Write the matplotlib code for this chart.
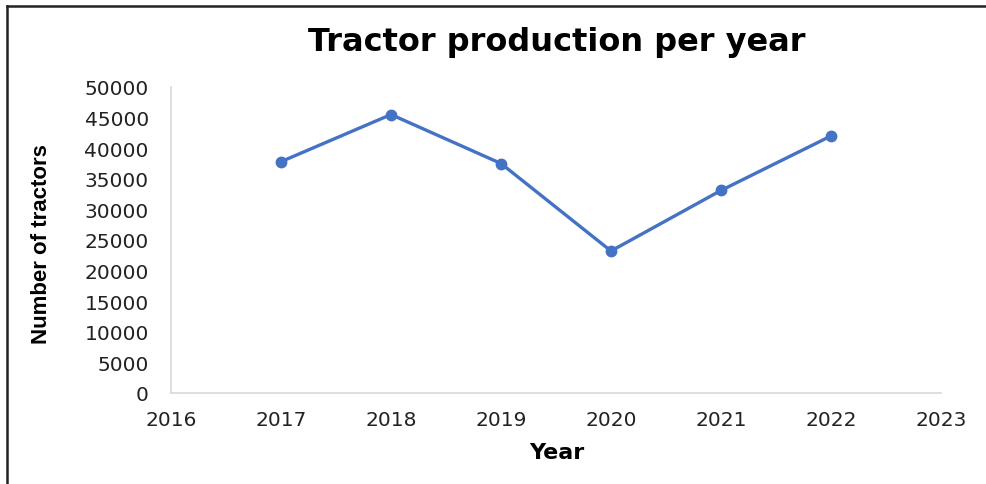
import matplotlib
matplotlib.use("Agg")
import matplotlib.pyplot as plt
from matplotlib.lines import Line2D

years = [2017, 2018, 2019, 2020, 2021, 2022]
tractors = [37800, 45500, 37500, 23200, 33100, 42000]
x_ticks = [2016, 2017, 2018, 2019, 2020, 2021, 2022, 2023]
y_ticks = list(range(0, 50001, 5000))

plt.rcParams['font.family'] = ['DejaVu Sans']

fig = plt.figure(figsize=(9.87, 4.85), dpi=100)
ax = fig.add_axes([171/987, 1-394/485, (941-171)/987, (394-88)/485])

ax.plot(years, tractors, color='#4472C4', lw=2.4, marker='o', ms=7.5,
        markeredgecolor='#4472C4', markerfacecolor='#4472C4', clip_on=False)

ax.set_xlim(2016, 2023)
ax.set_ylim(0, 50000)
ax.set_xticks(x_ticks)
ax.set_yticks(y_ticks)
ax.tick_params(axis='both', length=0, labelsize=14.5, colors='#222222')
ax.tick_params(axis='y', pad=16)
ax.tick_params(axis='x', pad=12)
for s in ['top', 'right']:
    ax.spines[s].set_visible(False)
for s in ['left', 'bottom']:
    ax.spines[s].set_color('#d9d9d9')
    ax.spines[s].set_linewidth(1.2)

fig.text(557/987, 1-43/485, 'Tractor production per year', ha='center', va='center',
         fontsize=23, fontweight='bold', color='black')
fig.text(557/987, 1-453/485, 'Year', ha='center', va='center',
         fontsize=16, fontweight='bold', color='black')
fig.text(42/987, 1-244/485, 'Number of tractors', ha='center', va='center',
         rotation=90, fontsize=16, fontweight='bold', color='black',
         family=['Liberation Sans', 'DejaVu Sans'])

# outer border (left and top)
fig.add_artist(Line2D([7/987, 7/987], [0, 1-7/485], transform=fig.transFigure,
                      color='#222222', lw=1.8))
fig.add_artist(Line2D([7/987, 1], [1-7/485, 1-7/485], transform=fig.transFigure,
                      color='#222222', lw=1.8))

fig.savefig('out.png', dpi=100, facecolor='white')
